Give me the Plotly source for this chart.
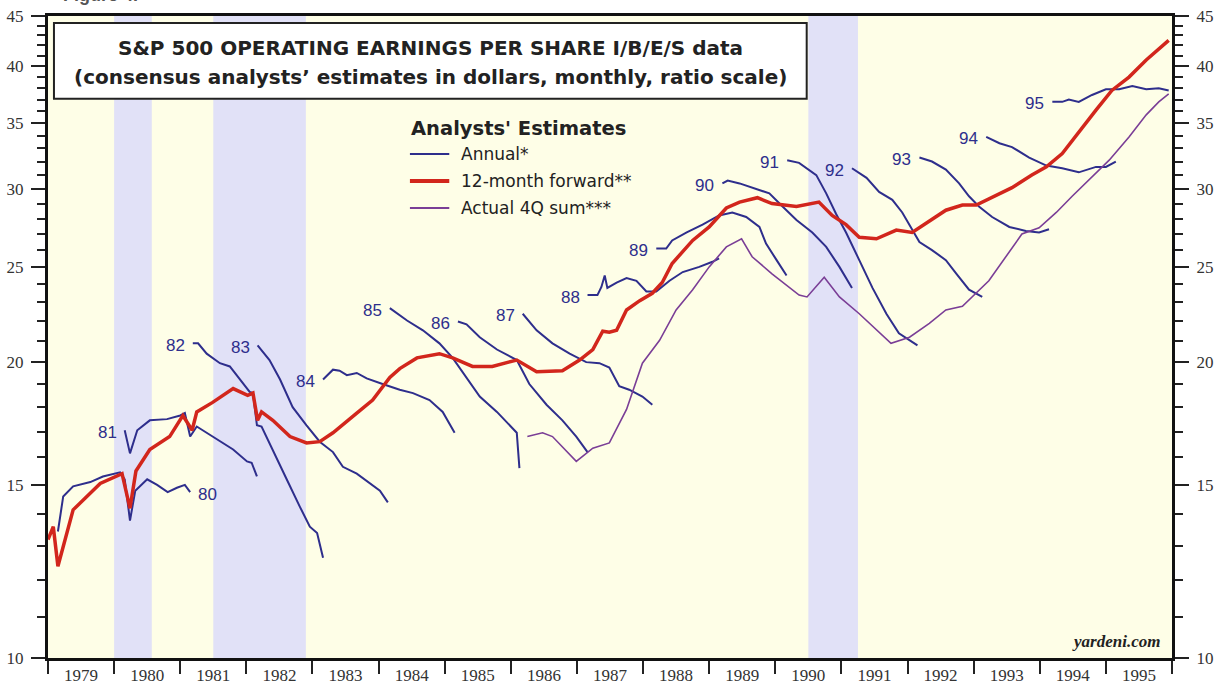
import math
import plotly.graph_objects as go

# ---------------- data ----------------
years = list(range(1979, 1996))
year_labels = [str(y) for y in years]

recession_start = [1980.0, 1981.5, 1990.5]
recession_end = [1980.57, 1982.9, 1991.25]

fwd_dates = [1979.00, 1979.08, 1979.15, 1979.38, 1979.79, 1979.98, 1980.12, 1980.24, 1980.33,
             1980.54, 1980.84, 1981.04, 1981.18, 1981.25, 1981.49, 1981.80, 1982.02, 1982.10,
             1982.17, 1982.23, 1982.40, 1982.66, 1982.91, 1983.11, 1983.31, 1983.67, 1983.91,
             1984.17, 1984.32, 1984.58, 1984.92, 1985.12, 1985.42, 1985.72, 1986.09, 1986.39,
             1986.78, 1987.04, 1987.24, 1987.39, 1987.49, 1987.60, 1987.75, 1987.95, 1988.14,
             1988.29, 1988.44, 1988.75, 1989.00, 1989.26, 1989.46, 1989.73, 1989.95, 1990.32,
             1990.66, 1990.86, 1991.07, 1991.27, 1991.53, 1991.83, 1992.07, 1992.58, 1992.83,
             1993.04, 1993.28, 1993.58, 1993.88, 1994.10, 1994.34, 1994.59, 1994.85, 1995.09,
             1995.35, 1995.61, 1995.95]
fwd_values = [13.2, 13.6, 12.4, 14.15, 15.05, 15.25, 15.4, 14.2, 15.5,
              16.3, 16.8, 17.65, 17.05, 17.8, 18.2, 18.8, 18.5, 18.6,
              17.45, 17.8, 17.45, 16.8, 16.55, 16.6, 16.95, 17.75, 18.3,
              19.3, 19.7, 20.2, 20.4, 20.2, 19.8, 19.8, 20.1, 19.55,
              19.6, 20.1, 20.6, 21.5, 21.45, 21.55, 22.6, 23.1, 23.5,
              24.1, 25.2, 26.6, 27.45, 28.7, 29.1, 29.4, 29.0, 28.8,
              29.1, 28.2, 27.6, 26.8, 26.7, 27.25, 27.1, 28.55, 28.9,
              28.9, 29.4, 30.1, 31.0, 31.6, 32.6, 34.3, 36.1, 37.8,
              39.0, 40.6, 42.5]

actual_dates = [1986.25, 1986.48, 1986.63, 1986.99, 1987.24, 1987.49, 1987.75, 1987.99, 1988.25,
                1988.50, 1988.75, 1989.00, 1989.26, 1989.49, 1989.65, 1989.95, 1990.36, 1990.48,
                1990.74, 1990.97, 1991.27, 1991.53, 1991.75, 1992.03, 1992.33, 1992.58, 1992.83,
                1993.23, 1993.49, 1993.73, 1993.99, 1994.25, 1994.49, 1994.75, 1995.05, 1995.35,
                1995.61, 1995.80, 1995.95]
actual_values = [16.8, 16.95, 16.8, 15.85, 16.35, 16.55, 17.9, 19.95, 21.05,
                 22.6, 23.7, 25.0, 26.2, 26.7, 25.6, 24.6, 23.4, 23.3,
                 24.4, 23.3, 22.4, 21.55, 20.9, 21.2, 21.9, 22.6, 22.8,
                 24.2, 25.6, 27.0, 27.4, 28.4, 29.5, 30.65, 32.1, 33.9,
                 35.7, 36.8, 37.5]

est80_dates = [1979.15, 1979.23, 1979.38, 1979.64, 1979.83, 1980.09, 1980.16, 1980.24, 1980.32,
               1980.50, 1980.65, 1980.81, 1980.95, 1981.07, 1981.15]
est80_values = [13.45, 14.6, 14.95, 15.1, 15.3, 15.45, 15.2, 13.8, 14.8,
                15.2, 15.0, 14.75, 14.9, 15.0, 14.75]

est81_dates = [1980.16, 1980.24, 1980.35, 1980.54, 1980.80, 1981.00, 1981.07, 1981.15, 1981.25,
               1981.49, 1981.80, 1982.01, 1982.08, 1982.16]
est81_values = [17.05, 16.15, 17.05, 17.45, 17.5, 17.65, 17.75, 16.8, 17.2,
                16.8, 16.3, 15.85, 15.8, 15.3]

est82_dates = [1981.19, 1981.27, 1981.40, 1981.60, 1981.75, 1981.90, 1982.05, 1982.10, 1982.16,
               1982.23, 1982.40, 1982.61, 1982.81, 1982.96, 1983.07, 1983.16]
est82_values = [20.9, 20.9, 20.4, 19.95, 19.8, 19.2, 18.65, 18.6, 17.25,
                17.2, 16.3, 15.2, 14.25, 13.6, 13.4, 12.65]

est83_dates = [1982.17, 1982.35, 1982.51, 1982.70, 1982.91, 1983.11, 1983.31, 1983.46, 1983.67,
               1983.87, 1984.02, 1984.14]
est83_values = [20.8, 20.1, 19.2, 18.0, 17.25, 16.6, 16.2, 15.65, 15.4,
                15.05, 14.8, 14.4]

est84_dates = [1983.16, 1983.31, 1983.41, 1983.52, 1983.67, 1983.82, 1984.06, 1984.32, 1984.52,
               1984.77, 1984.97, 1985.15]
est84_values = [19.2, 19.65, 19.6, 19.4, 19.5, 19.25, 19.0, 18.75, 18.6,
                18.3, 17.8, 16.95]

est85_dates = [1984.17, 1984.43, 1984.67, 1984.92, 1985.12, 1985.33, 1985.53, 1985.79, 1986.03,
               1986.09, 1986.13]
est85_values = [22.7, 22.05, 21.55, 20.9, 20.2, 19.3, 18.45, 17.8, 17.15,
                16.95, 15.6]

est86_dates = [1985.20, 1985.33, 1985.53, 1985.79, 1986.09, 1986.28, 1986.54, 1986.78, 1986.99,
               1987.11, 1987.16]
est86_values = [22.0, 21.85, 21.2, 20.6, 20.1, 19.0, 18.1, 17.45, 16.8,
                16.4, 16.2]

est87_dates = [1986.18, 1986.39, 1986.63, 1986.89, 1987.14, 1987.34, 1987.49, 1987.64, 1987.79,
               1987.99, 1988.14]
est87_values = [22.4, 21.55, 20.9, 20.4, 20.0, 19.95, 19.75, 18.9, 18.75,
                18.45, 18.1]

est88_dates = [1987.16, 1987.31, 1987.37, 1987.42, 1987.46, 1987.60, 1987.75, 1987.90, 1988.05,
               1988.20, 1988.40, 1988.60, 1988.85, 1989.05, 1989.15]
est88_values = [23.4, 23.4, 23.85, 24.5, 23.8, 24.1, 24.35, 24.2, 23.6,
                23.6, 24.2, 24.7, 25.0, 25.3, 25.5]

est89_dates = [1988.20, 1988.35, 1988.44, 1988.66, 1988.90, 1989.15, 1989.35, 1989.56, 1989.76,
               1989.86, 1990.02, 1990.17]
est89_values = [26.1, 26.1, 26.6, 27.1, 27.6, 28.2, 28.4, 28.1, 27.45,
                26.4, 25.4, 24.5]

est90_dates = [1989.20, 1989.28, 1989.46, 1989.71, 1989.91, 1990.11, 1990.32, 1990.56, 1990.77,
               1990.97, 1991.16]
est90_values = [30.4, 30.6, 30.4, 30.0, 29.7, 28.8, 27.9, 27.1, 26.2,
                25.0, 23.8]

est91_dates = [1990.18, 1990.36, 1990.62, 1990.77, 1990.92, 1991.07, 1991.27, 1991.47, 1991.68,
               1991.87, 1992.15]
est91_values = [32.1, 31.9, 31.0, 29.7, 28.3, 27.1, 25.4, 23.8, 22.4,
                21.4, 20.8]

est92_dates = [1991.16, 1991.38, 1991.57, 1991.77, 1991.92, 1992.07, 1992.18, 1992.37, 1992.58,
               1992.74, 1992.93, 1993.13]
est92_values = [31.5, 30.8, 29.8, 29.25, 28.4, 27.25, 26.5, 26.0, 25.4,
                24.6, 23.7, 23.3]

est93_dates = [1992.18, 1992.37, 1992.58, 1992.78, 1992.93, 1993.08, 1993.28, 1993.54, 1993.79,
               1993.99, 1994.14]
est93_values = [32.3, 32.0, 31.4, 30.4, 29.5, 28.8, 28.1, 27.45, 27.2,
                27.1, 27.3]

est94_dates = [1993.19, 1993.39, 1993.58, 1993.84, 1994.10, 1994.34, 1994.59, 1994.85, 1995.00,
               1995.15]
est94_values = [33.9, 33.4, 33.1, 32.3, 31.7, 31.5, 31.2, 31.6, 31.6, 32.0]

est95_dates = [1994.19, 1994.34, 1994.44, 1994.59, 1994.79, 1995.00, 1995.20, 1995.40, 1995.61,
               1995.80, 1995.95]
est95_values = [36.8, 36.8, 37.0, 36.8, 37.4, 37.9, 37.9, 38.2, 37.9, 38.0, 37.8]

est_labels = ["80", "81", "82", "83", "84", "85", "86", "87",
              "88", "89", "90", "91", "92", "93", "94", "95"]

y_major = [10, 15, 20, 25, 30, 35, 40, 45]

# ---------------- figure ----------------
est_dates = [est80_dates, est81_dates, est82_dates, est83_dates, est84_dates, est85_dates,
             est86_dates, est87_dates, est88_dates, est89_dates, est90_dates, est91_dates,
             est92_dates, est93_dates, est94_dates, est95_dates]
est_values = [est80_values, est81_values, est82_values, est83_values, est84_values,
              est85_values, est86_values, est87_values, est88_values, est89_values,
              est90_values, est91_values, est92_values, est93_values, est94_values,
              est95_values]

BLUE = "#2E2E8C"
RED = "#D2261C"
PURPLE = "#7A3E96"
SERIF = "Liberation Serif, Times New Roman, serif"
SANS = "DejaVu Sans, Verdana, sans-serif"
ARIAL = "Liberation Sans, Arial, sans-serif"

fig = go.Figure()

annotations = []
for lab, xs, ys in zip(est_labels, est_dates, est_values):
    fig.add_trace(go.Scatter(x=xs, y=ys, mode="lines",
                             line=dict(color=BLUE, width=2), showlegend=False,
                             hoverinfo="skip"))
    if lab == "80":
        ax, ay, anchor, shift = xs[-1], ys[-1], "left", 6
    else:
        ax, ay, anchor, shift = xs[0], ys[0], "right", -6
    annotations.append(dict(x=ax, y=math.log10(ay), xref="x", yref="y", text=lab,
                            showarrow=False, xanchor=anchor, yanchor="middle",
                            xshift=shift, yshift=-2,
                            font=dict(family=ARIAL, size=17, color=BLUE)))

fig.add_trace(go.Scatter(x=actual_dates, y=actual_values, mode="lines",
                         line=dict(color=PURPLE, width=1.6), showlegend=False,
                         hoverinfo="skip"))
fig.add_trace(go.Scatter(x=fwd_dates, y=fwd_values, mode="lines",
                         line=dict(color=RED, width=3.5), showlegend=False,
                         hoverinfo="skip"))
# dummy trace so the right-hand axis is rendered
fig.add_trace(go.Scatter(x=[years[0]], y=[y_major[0]], yaxis="y2", mode="markers",
                         marker=dict(opacity=0), showlegend=False, hoverinfo="skip"))

shapes = []
for s, e in zip(recession_start, recession_end):
    shapes.append(dict(type="rect", xref="x", yref="paper", x0=s, x1=e, y0=0, y1=1,
                       fillcolor="#E1E1F7", line=dict(width=0), layer="below"))

# title box
shapes.append(dict(type="rect", xref="paper", yref="paper", x0=0.0053, x1=0.675,
                   y0=0.871, y1=0.989, fillcolor="white",
                   line=dict(color="#222", width=2), layer="above"))

# manual legend
legend_rows = [(0.785, BLUE, 2, "Annual*"), (0.743, RED, 4, "12-month forward**"),
               (0.701, PURPLE, 2, "Actual 4Q sum***")]
for ly, col, w, txt in legend_rows:
    shapes.append(dict(type="line", xref="paper", yref="paper", x0=0.322, x1=0.357,
                       y0=ly, y1=ly, line=dict(color=col, width=w), layer="above"))
    annotations.append(dict(x=0.366, y=ly, xref="paper", yref="paper", text=txt,
                            showarrow=False, xanchor="left", yanchor="middle",
                            font=dict(family=SANS, size=17, color="#222")))
annotations.append(dict(x=0.321, y=0.8255, xref="paper", yref="paper",
                        text="<b>Analysts' Estimates</b>", showarrow=False,
                        xanchor="left", yanchor="middle",
                        font=dict(family=SANS, size=19.5, color="#222")))

annotations.append(dict(x=0.340, y=0.950, xref="paper", yref="paper",
                        text="<b>S&P 500 OPERATING EARNINGS PER SHARE I/B/E/S data</b>",
                        showarrow=False, xanchor="center", yanchor="middle",
                        font=dict(family=SANS, size=20, color="#222")))
annotations.append(dict(x=0.340, y=0.905, xref="paper", yref="paper",
                        text="<b>(consensus analysts’ estimates in dollars, monthly, ratio scale)</b>",
                        showarrow=False, xanchor="center", yanchor="middle",
                        font=dict(family=SANS, size=20, color="#222")))
annotations.append(dict(x=0.991, y=0.025, xref="paper", yref="paper",
                        text="<b><i>yardeni.com</i></b>", showarrow=False,
                        xanchor="right", yanchor="middle",
                        font=dict(family=SERIF, size=17, color="#222")))
annotations.append(dict(x=0.012, y=1.032, xref="paper", yref="paper",
                        text="<b>Figure 4.</b>", showarrow=False,
                        xanchor="left", yanchor="middle",
                        font=dict(family=ARIAL, size=18, color="#555")))

minor_y = [v for v in range(11, 45) if v not in y_major]
yaxis_common = dict(type="log", range=[1, 1.65321], tickvals=y_major,
                    ticktext=[str(v) for v in y_major], ticks="outside", ticklen=14,
                    tickwidth=2, tickcolor="#222", showline=True, linewidth=3,
                    linecolor="#111", showgrid=False, zeroline=False, automargin=False,
                    ticklabelstandoff=4,
                    tickfont=dict(family=SERIF, size=17, color="#333"),
                    minor=dict(tickvals=minor_y, ticks="outside", ticklen=8,
                               tickwidth=1.5, tickcolor="#222", showgrid=False))

fig.update_layout(
    width=1218, height=684,
    margin=dict(l=48, r=46, t=16, b=26),
    paper_bgcolor="white", plot_bgcolor="#FEFEE7",
    showlegend=False,
    xaxis=dict(range=[1979, 1996], tickvals=[y + 0.5 for y in years], ticktext=year_labels,
               ticks="", ticklen=0, showline=True, linewidth=3, linecolor="#111",
               mirror=True, showgrid=False, zeroline=False, automargin=False,
               tickfont=dict(family=SERIF, size=17, color="#333"),
               minor=dict(tickvals=list(range(1979, 1997)), ticks="outside", ticklen=13,
                          tickwidth=2, tickcolor="#222", showgrid=False)),
    yaxis=dict(side="left", **yaxis_common),
    yaxis2=dict(side="right", overlaying="y", anchor="x", **yaxis_common),
    shapes=shapes,
    annotations=annotations,
)

fig.write_html("out.html", config={"displayModeBar": False},
               post_script="document.body.style.margin='0px';")
